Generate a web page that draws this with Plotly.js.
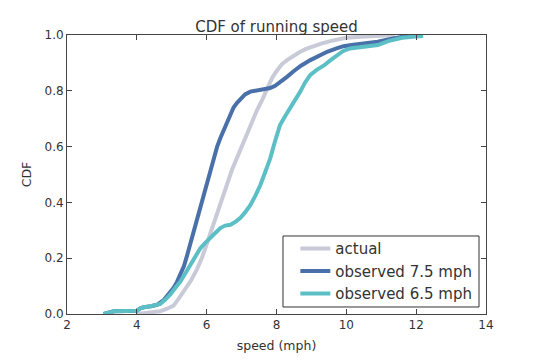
<!DOCTYPE html>
<html>
<head>
<meta charset="utf-8">
<script src="https://cdn.plot.ly/plotly-3.0.1.min.js"></script>
<style>html,body{margin:0;padding:0;background:#fff;}#chart{width:540px;height:360px;}</style>
</head>
<body>
<div id="chart"></div>
<script>
// actual
const actualX = [4.0, 4.3, 4.67, 4.85, 5.05, 5.2, 5.4, 5.55, 5.72, 5.86, 6.0, 6.15, 6.3, 6.44, 6.58, 6.72, 6.87, 7.0, 7.16, 7.3, 7.44, 7.6, 7.73, 7.87, 8.0, 8.15, 8.3, 8.5, 8.68, 8.85, 9.06, 9.3, 9.6, 9.8, 10.0, 10.4, 10.9, 11.4];
const actualY = [0.0, 0.004, 0.01, 0.018, 0.03, 0.055, 0.09, 0.12, 0.16, 0.2, 0.25, 0.305, 0.36, 0.415, 0.47, 0.515, 0.56, 0.6, 0.64, 0.685, 0.73, 0.77, 0.81, 0.845, 0.87, 0.895, 0.91, 0.928, 0.94, 0.95, 0.96, 0.97, 0.98, 0.986, 0.99, 0.994, 0.997, 1.0];
// observed 7.5 mph
const obs75X = [3.05, 3.2, 3.34, 3.7, 4.0, 4.1, 4.2, 4.4, 4.58, 4.77, 4.9, 5.05, 5.15, 5.25, 5.35, 5.44, 5.54, 5.63, 5.72, 5.82, 5.91, 6.0, 6.1, 6.2, 6.3, 6.39, 6.49, 6.58, 6.68, 6.77, 6.87, 6.96, 7.1, 7.25, 7.4, 7.54, 7.68, 7.82, 7.96, 8.1, 8.3, 8.49, 8.7, 8.97, 9.2, 9.45, 9.7, 9.92, 10.2, 10.6, 10.9, 11.2, 11.4, 11.7, 12.0];
const obs75Y = [0.0, 0.005, 0.01, 0.011, 0.012, 0.02, 0.024, 0.028, 0.033, 0.05, 0.07, 0.093, 0.115, 0.14, 0.172, 0.21, 0.255, 0.3, 0.34, 0.38, 0.425, 0.47, 0.515, 0.56, 0.6, 0.63, 0.66, 0.69, 0.717, 0.74, 0.757, 0.77, 0.787, 0.797, 0.8, 0.801, 0.804, 0.81, 0.818, 0.83, 0.85, 0.87, 0.89, 0.91, 0.925, 0.94, 0.951, 0.96, 0.965, 0.97, 0.976, 0.984, 0.99, 0.996, 0.998];
// observed 6.5 mph
const obs65X = [3.05, 3.2, 3.34, 3.7, 4.0, 4.1, 4.2, 4.4, 4.67, 4.8, 4.96, 5.1, 5.25, 5.4, 5.53, 5.68, 5.82, 5.96, 6.1, 6.25, 6.39, 6.53, 6.68, 6.82, 6.96, 7.1, 7.25, 7.4, 7.54, 7.68, 7.82, 7.96, 8.1, 8.25, 8.39, 8.53, 8.68, 8.82, 8.97, 9.15, 9.35, 9.55, 9.73, 9.9, 10.1, 10.35, 10.6, 10.9, 11.2, 11.4, 11.6, 11.9, 12.2];
const obs65Y = [0.0, 0.005, 0.01, 0.011, 0.012, 0.02, 0.024, 0.028, 0.036, 0.05, 0.07, 0.093, 0.117, 0.148, 0.177, 0.207, 0.236, 0.255, 0.272, 0.29, 0.308, 0.317, 0.32, 0.33, 0.344, 0.364, 0.39, 0.425, 0.463, 0.51, 0.558, 0.62, 0.677, 0.71, 0.737, 0.767, 0.797, 0.83, 0.857, 0.875, 0.89, 0.91, 0.928, 0.942, 0.952, 0.956, 0.958, 0.964, 0.978, 0.985, 0.99, 0.994, 0.996];
const xTicks = [2, 4, 6, 8, 10, 12, 14];
const yTicks = [0, 0.2, 0.4, 0.6, 0.8, 1.0];
const yTickText = ['0.0', '0.2', '0.4', '0.6', '0.8', '1.0'];

const traces = [
  {x: actualX, y: actualY, name: 'actual', mode: 'lines', line: {color: '#c8cad8', width: 4}},
  {x: obs75X, y: obs75Y, name: 'observed 7.5 mph', mode: 'lines', line: {color: '#4a70aa', width: 4}},
  {x: obs65X, y: obs65Y, name: 'observed 6.5 mph', mode: 'lines', line: {color: '#5bbfc5', width: 4}}
];

const axisCommon = {
  showgrid: false, zeroline: false, showline: true, linecolor: '#444', linewidth: 1,
  mirror: 'ticks', ticks: 'inside', ticklen: 5, tickcolor: '#444',
  tickfont: {family: 'DejaVu Sans', size: 12, color: '#333'}
};

const layout = {
  width: 540, height: 360,
  margin: {l: 67, r: 54, t: 35, b: 46},
  paper_bgcolor: '#fff', plot_bgcolor: '#fff',
  font: {family: 'DejaVu Sans', color: '#333'},
  title: {text: 'CDF of running speed', font: {family: 'DejaVu Sans', size: 15, color: '#333'},
          x: 0.5, xref: 'paper', y: 1, yref: 'paper', yanchor: 'bottom', pad: {b: 3}},
  xaxis: Object.assign({}, axisCommon, {range: [2, 14], tickvals: xTicks, ticktext: xTicks.map(String),
          title: {text: 'speed (mph)', font: {family: 'DejaVu Sans', size: 12.5, color: '#333'}, standoff: 9}}),
  yaxis: Object.assign({}, axisCommon, {range: [0, 1], tickvals: yTicks, ticktext: yTickText,
          title: {text: 'CDF', font: {family: 'DejaVu Sans', size: 12.5, color: '#333'}, standoff: 10}}),
  legend: {x: 0.545, xanchor: 'left', y: 0.013, yanchor: 'bottom', bgcolor: 'rgba(0,0,0,0)', borderwidth: 0,
           font: {family: 'DejaVu Sans', size: 15, color: '#333'}, itemwidth: 30, tracegroupgap: 0},
  shapes: [{type: 'rect', xref: 'paper', yref: 'paper', x0: 0.5155, x1: 0.9833, y0: 0.0251, y1: 0.2796,
            fillcolor: '#fff', line: {color: '#333', width: 1}, layer: 'above'}],
  showlegend: true
};

Plotly.newPlot('chart', traces, layout, {displayModeBar: false, staticPlot: true});
</script>
</body>
</html>
